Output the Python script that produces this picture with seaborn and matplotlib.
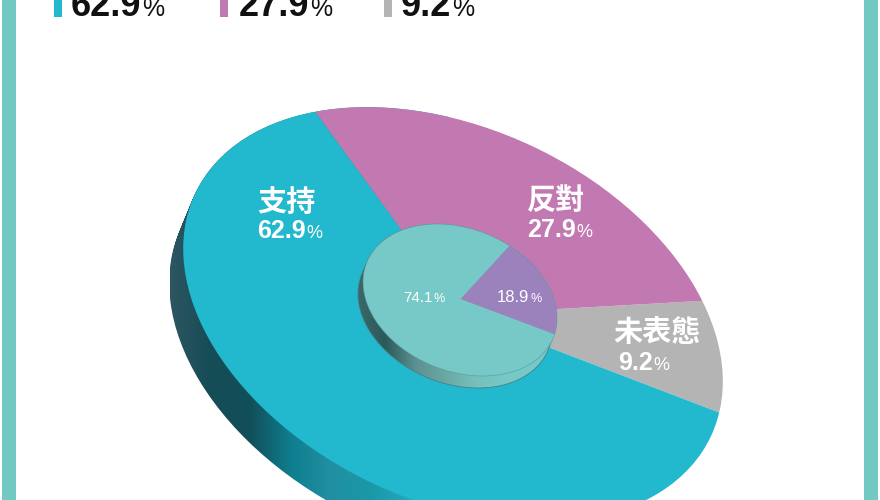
import numpy as np
import matplotlib
matplotlib.use("Agg")
import matplotlib.pyplot as plt
from matplotlib.path import Path
from matplotlib.patches import Rectangle, Circle
from matplotlib.transforms import Affine2D
import seaborn as sns

# values
labels = ['支持', '反對', '未表態']
outer_values = [62.9, 27.9, 9.2]
outer_colors = ['#22B8CE', '#C278B0', '#B4B4B4']
inner_values = [74.1, 18.9]
inner_colors = ['#76C9C6', '#9B82BC']

sns.set_theme(style='white')
plt.rcParams['font.family'] = ['Liberation Sans', 'Noto Sans CJK TC', 'DejaVu Sans']

fig = plt.figure(figsize=(8.8, 5), dpi=100)
ax = fig.add_axes([0, 0, 1, 1])


# tilted ellipse as a unit circle squashed and turned, y points down on screen
def disc(cx, cy, a, b, tilt):
    return Affine2D().scale(a, -b).rotate_deg(tilt).translate(cx, cy)


# pie with its apex off the ellipse centre (the disc is seen in perspective)
def draw_pie(values, colors, apex, start, tf, z):
    wedges, _ = ax.pie(values, colors=colors, startangle=start, center=apex, radius=4,
                       wedgeprops={'linewidth': 0, 'zorder': z})
    for w in wedges:
        w.set_transform(tf + ax.transData)
        w.set_clip_on(True)  # pie turns clipping off
        w.set_clip_path(Path.unit_circle(), tf + ax.transData)


# the side of a disc: gradient shown through the disc swept along the depth
def draw_side(tf, depth, stops, x0, x1, z):
    cmap = sns.blend_palette(stops, as_cmap=True)
    parts = []
    for t in np.linspace(0, 1, 12):
        moved = tf + Affine2D().translate(depth[0] * t, depth[1] * t)
        parts.append(Path.unit_circle().transformed(moved))
    im = ax.imshow(np.linspace(0, 1, 256).reshape(1, -1), cmap=cmap, aspect='auto',
                   extent=(x0, x1, 520, 100), zorder=z)
    im.set_clip_path(Path.make_compound_path(*parts), ax.transData)


outer = disc(453, 315, 285, 186.5, 25.2)
inner = disc(460, 300, 100.6, 71.2, 22)
inner_depth = (-5, 12)

draw_side(outer, (-14, 34),
          ['#2C5662', '#164C56', '#124F5A', '#0E7D8D', '#2090A2', '#1A98A8', '#22A8BC', '#22B8CE'],
          170, 450, 1)
draw_pie(outer_values[::-1], outer_colors[::-1], (0.03, 0.025), 6.5, outer, 2)

draw_side(inner, inner_depth,
          ['#3A6A6A', '#2A5A5A', '#5C9090', '#6AA8A4', '#76C0BC', '#76C9C6', '#76C9C6', '#76C9C6'],
          355, 565, 3)
draw_pie(inner_values[::-1], inner_colors[::-1], (0.0, 0.014), 2, inner, 4)

# thin outline round the small disc
low = inner + Affine2D().translate(*inner_depth)
ax.add_patch(Circle((0, 0), 1, fill=False, ec='#4C7F84', lw=0.6, transform=low + ax.transData, zorder=3))
ax.add_patch(Circle((0, 0), 1, fill=False, ec='#5E8F96', lw=0.5, alpha=0.7,
                    transform=inner + ax.transData, zorder=5))

ax.set_xlim(0, 880)
ax.set_ylim(500, 0)
ax.set_aspect('auto')
ax.axis('off')

# side bands of the card
for x in [2, 864]:
    ax.add_patch(Rectangle((x, 0), 14, 500, color='#72C8C2', lw=0, zorder=6))

renderer = fig.canvas.get_renderer()


# number with a smaller percent sign on the same baseline
def pct(x, y, value, size, psize, color, weight='normal', pweight='normal'):
    t = ax.text(x, y, f'{value}', fontsize=size, color=color, fontweight=weight,
                ha='left', va='baseline', zorder=7)
    w = t.get_window_extent(renderer).width
    ax.text(x + w + 1, y, '%', fontsize=psize, color=color, fontweight=pweight,
            ha='left', va='baseline', zorder=7)


# top legend, cut off by the picture edge
for bar_x, text_x, value, color in zip([54, 220, 384], [71, 239, 401], outer_values, outer_colors):
    ax.add_patch(Rectangle((bar_x, 0), 8, 17, color=color, lw=0, zorder=6))
    pct(text_x, 16, value, 26, 18, '#111111', weight='bold')

# slice labels
for (x, y), name in zip([(286, 203), (556, 201), (657, 333)], labels):
    ax.text(x, y, name, fontsize=21, color='white', fontweight='bold',
            ha='center', va='center', zorder=7)
for (x, y), value in zip([(257, 238), (527, 237), (618, 370)], outer_values):
    pct(x, y, value, 18, 13, 'white', weight='bold')

pct(403, 302, inner_values[0], 11, 9, 'white')
pct(497, 302, inner_values[1], 12, 9, 'white')

fig.savefig('out.png', dpi=100)
